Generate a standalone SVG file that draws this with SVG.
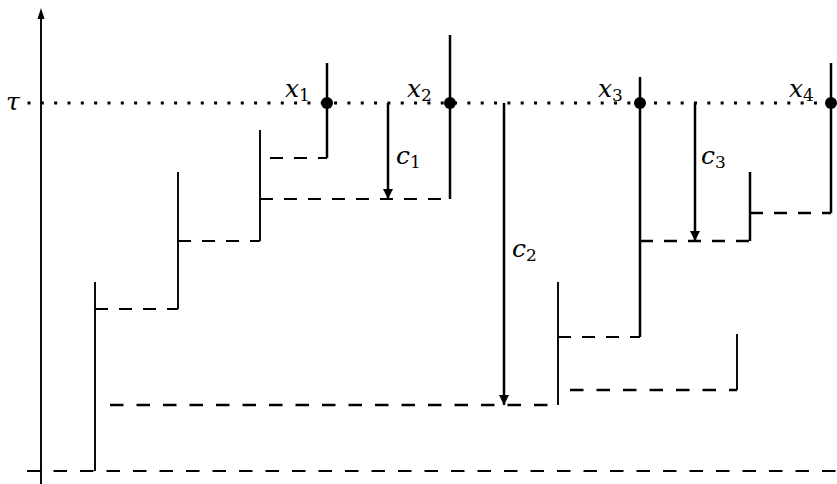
<svg xmlns="http://www.w3.org/2000/svg" width="837" height="484" viewBox="0 0 837 484">
<style>
.t{stroke:#000;stroke-width:1.9;fill:none}
.k{stroke:#000;stroke-width:2.5;fill:none}
.d{stroke-dasharray:13 11}
.db{stroke-dasharray:13.5 13}
.lab{font-family:"DejaVu Serif","Liberation Serif",serif;font-size:25px;font-style:italic;fill:#000}
.sub{font-size:17px;font-style:normal}
</style>
<defs>
<marker id="ah" viewBox="0 0 10 12" refX="10" refY="6" markerWidth="10" markerHeight="12" markerUnits="userSpaceOnUse" orient="auto">
<path d="M0,1 L10,6 L0,11 Z" fill="#000"/>
</marker>
</defs>
<g id="axes">
<line class="t" x1="41" y1="484" x2="41" y2="18"/>
<path d="M41,8 L37.5,19 L44.5,19 Z" fill="#000"/>
<line x1="27.5" y1="103" x2="837" y2="103" stroke="#000" stroke-width="3" stroke-dasharray="3 10.33"/>
<text class="lab" x="6" y="110">τ</text>
<line class="t db" x1="27" y1="471" x2="837" y2="471"/>
</g>
<g id="connectors">
<line class="t" x1="95" y1="282" x2="95" y2="471"/>
<line class="t d" x1="95" y1="309" x2="178" y2="309"/>
<line class="t" x1="178" y1="172" x2="178" y2="309"/>
<line class="t d" x1="178" y1="241" x2="260" y2="241"/>
<line class="t" x1="260" y1="130" x2="260" y2="241"/>
<line class="t d" x1="260" y1="199" x2="450" y2="199"/>
<line class="t d" x1="270" y1="158" x2="327" y2="158"/>
<line class="k" x1="327" y1="63" x2="327" y2="158"/>
<line class="k" x1="450" y1="35" x2="450" y2="199"/>
<line class="k" x1="388" y1="103" x2="388" y2="199" marker-end="url(#ah)"/>
<line class="k" x1="504" y1="103" x2="504" y2="405" marker-end="url(#ah)"/>
<line class="k db" x1="110" y1="405" x2="558" y2="405"/>
<line class="t" x1="558" y1="282" x2="558" y2="405"/>
<line class="t d" x1="558" y1="337" x2="640" y2="337"/>
<line class="k" x1="640" y1="77" x2="640" y2="337"/>
<line class="k db" x1="570" y1="390" x2="737" y2="390"/>
<line class="t" x1="737" y1="334" x2="737" y2="390"/>
<line class="k d" x1="640" y1="241" x2="750" y2="241"/>
<line class="k" x1="750" y1="172" x2="750" y2="241"/>
<line class="k d" x1="750" y1="213" x2="831" y2="213"/>
<line class="k" x1="831" y1="63" x2="831" y2="213"/>
<line class="k" x1="695" y1="103" x2="695" y2="241" marker-end="url(#ah)"/>
</g>
<g id="x1"><circle cx="327" cy="103" r="6"/><text class="lab" x="285" y="97">x<tspan class="sub" dy="4">1</tspan></text></g>
<g id="x2"><circle cx="450" cy="103" r="6"/><text class="lab" x="407" y="97">x<tspan class="sub" dy="4">2</tspan></text></g>
<g id="x3"><circle cx="640" cy="103" r="6"/><text class="lab" x="598" y="97">x<tspan class="sub" dy="4">3</tspan></text></g>
<g id="x4"><circle cx="831" cy="103" r="6"/><text class="lab" x="789" y="97">x<tspan class="sub" dy="4">4</tspan></text></g>
<g id="c1"><text class="lab" x="396" y="164">c<tspan class="sub" dy="4">1</tspan></text></g>
<g id="c2"><text class="lab" x="512" y="257">c<tspan class="sub" dy="4">2</tspan></text></g>
<g id="c3"><text class="lab" x="701" y="164">c<tspan class="sub" dy="4">3</tspan></text></g>
</svg>
